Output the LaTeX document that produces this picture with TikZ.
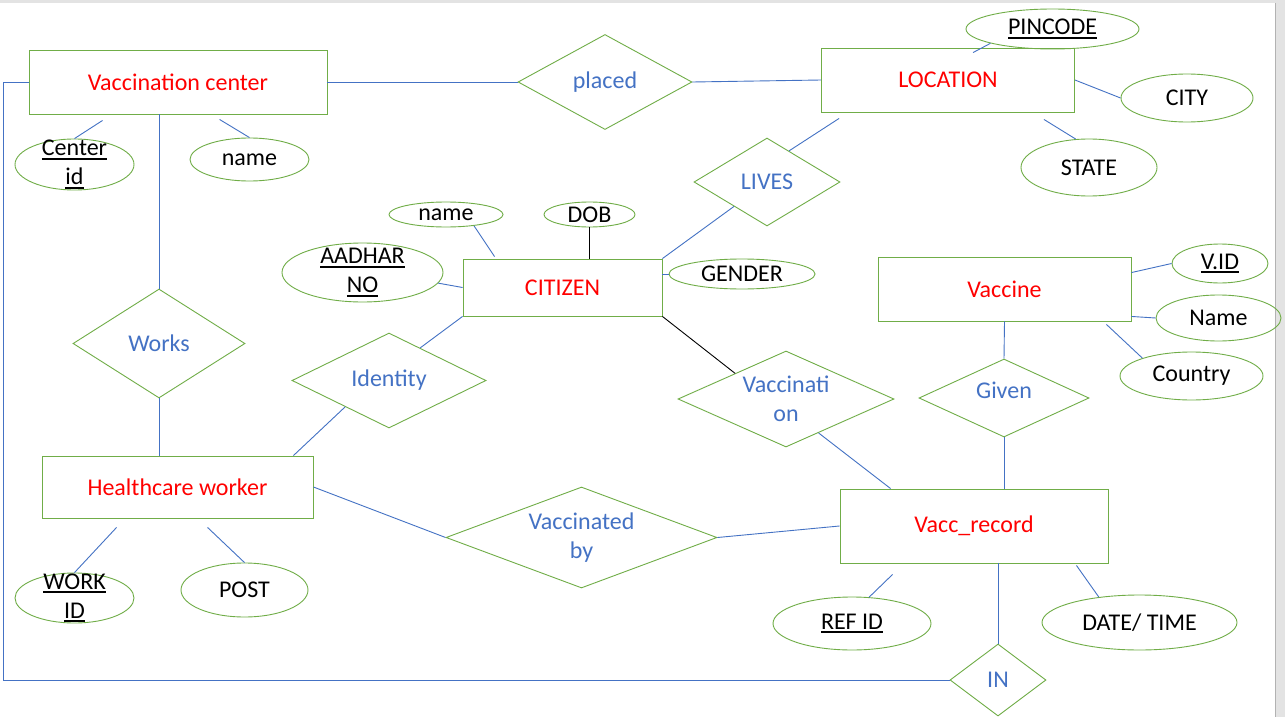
\documentclass[tikz,border=0pt]{standalone}
\usepackage{fontspec}
\setmainfont{Carlito}
\usetikzlibrary{shapes.geometric, positioning, calc}
\definecolor{boxgreen}{HTML}{70AD47}
\definecolor{linkblue}{HTML}{4472C4}
\definecolor{wordred}{HTML}{FF0000}
\definecolor{pagegrey}{HTML}{E3E3E3}
\tikzstyle{entity} = [rectangle, draw=boxgreen, line width=0.9pt, text=wordred, inner sep=0pt]
\tikzstyle{relation} = [diamond, draw=boxgreen, line width=0.9pt, text=linkblue, inner sep=0pt, align=center]
\tikzstyle{attrib} = [ellipse, draw=boxgreen, line width=0.9pt, text=black, inner xsep=0pt, inner ysep=-10pt, align=center]
\tikzstyle{bluelink} = [draw=linkblue, line width=0.9pt]
\tikzstyle{blacklink} = [draw=black, line width=0.9pt]
\newcommand{\keyattr}[1]{\setbox0\hbox{#1}\rlap{\rule[-4pt]{\wd0}{2pt}}\box0}

\begin{document}
\begin{tikzpicture}[x=1pt, y=-1pt, font=\fontsize{24}{29}\selectfont]
        \useasboundingbox (0,0) rectangle (1285,717);
        \fill[white] (0,0) rectangle (1285,717);
        \fill[pagegrey] (0,0) rectangle (1285,3);
        \fill[pagegrey] (1275,0) rectangle (1285,717);
        \draw[gray!60, line width=0.8pt] (1275,3) -- (1275,717);

        % entities
        \node (vc) [entity, minimum width=298pt, minimum height=64pt] at (178,82) {Vaccination center};
        \node (loc) [entity, minimum width=253pt, minimum height=64pt] at (948,80) {LOCATION};
        \node (cit) [entity, minimum width=199pt, minimum height=57pt] at (562.5,287.5) {CITIZEN};
        \node (vac) [entity, minimum width=253pt, minimum height=64pt] at (1004.5,289) {Vaccine};
        \node (hw) [entity, minimum width=271pt, minimum height=62pt] at (177.5,487) {Healthcare worker};
        \node (vr) [entity, minimum width=268pt, minimum height=74pt] at (974,526) {Vacc\_record};

        % relationships
        \node (placed) [relation, shape aspect=1.83, minimum width=174pt, minimum height=95pt] at (605,82) {placed};
        \node (lives) [relation, shape aspect=1.66, minimum width=146pt, minimum height=88pt] at (767,182) {LIVES};
        \node (works) [relation, shape aspect=1.58, minimum width=172pt, minimum height=109pt] at (159,343.5) {Works};
        \node (ident) [relation, shape aspect=2.04, minimum width=194pt, minimum height=95pt] at (389,380.5) {Identity};
        \node (vaccn) [relation, shape aspect=2.25, minimum width=216pt, minimum height=96pt] at (786,399) {Vaccinati\\on};
        \node (given) [relation, shape aspect=2.18, minimum width=170pt, minimum height=78pt] at (1004,398) {\raisebox{16pt}{Given}};
        \node (vby) [relation, shape aspect=2.68, minimum width=271pt, minimum height=101pt] at (581.5,537.5) {Vaccinated\\by};
        \node (in) [relation, shape aspect=1.33, minimum width=96pt, minimum height=72pt] at (998,680) {IN};

        % attributes
        \node (cid) [attrib, minimum width=119pt, minimum height=51pt] at (74.5,164.5) {\keyattr{Center}\\\keyattr{id}};
        \node (vcname) [attrib, minimum width=119pt, minimum height=43pt] at (249.5,159.5) {name};
        \node (pin) [attrib, minimum width=173pt, minimum height=40pt] at (1052.5,29) {\keyattr{PINCODE}};
        \node (city) [attrib, minimum width=132pt, minimum height=48pt] at (1187,98) {CITY};
        \node (state) [attrib, minimum width=136pt, minimum height=57pt] at (1089,167.5) {STATE};
        \node (cname) [attrib, minimum width=114pt, minimum height=25pt] at (446,214.5) {name};
        \node (dob) [attrib, minimum width=91pt, minimum height=25pt] at (589.5,214.5) {DOB};
        \node (aadhar) [attrib, minimum width=161pt, minimum height=59pt] at (362.5,272.5) {\keyattr{AADHAR}\\\keyattr{NO}};
        \node (gender) [attrib, minimum width=146pt, minimum height=30pt] at (742,274) {GENDER};
        \node (vid) [attrib, minimum width=96pt, minimum height=39pt] at (1220,263.5) {\keyattr{V.ID}};
        \node (vname) [attrib, minimum width=125pt, minimum height=46pt] at (1218.5,318) {Name};
        \node (country) [attrib, minimum width=143pt, minimum height=48pt] at (1191.5,376) {Country};
        \node (wid) [attrib, minimum width=119pt, minimum height=50pt] at (74.5,598) {\keyattr{WORK}\\\keyattr{ID}};
        \node (post) [attrib, minimum width=127pt, minimum height=54pt] at (244.5,590) {POST};
        \node (refid) [attrib, minimum width=158pt, minimum height=53pt] at (852,623.5) {\keyattr{REF ID}};
        \node (dt) [attrib, minimum width=195pt, minimum height=55pt] at (1139.5,622.5) {DATE/ TIME};

        \coordinate (leftedge) at (3,0);

        % relationship lines
        \path[bluelink] (vc.east) -- (placed.west);
        \path[bluelink] (placed.east) -- (loc.west);
        \path[bluelink] (works.north |- vc.south) -- (works.north);
        \path[bluelink] (works.south) -- (works.south |- hw.north);
        \path[bluelink] ($(loc.south west)+(18,6)$) -- ($(lives.north)!0.3!(lives.east)$);
        \path[bluelink] ($(lives.west)!0.55!(lives.south)$) -- (cit.north east);
        \path[bluelink] (cit.south west) -- ($(ident.north)!0.32!(ident.east)$);
        \path[bluelink] ($(ident.west)!0.55!(ident.south)$) -- ($(hw.north east)+(-20,0)$);
        \path[blacklink] (cit.south east) -- ($(vaccn.north)!0.47!(vaccn.west)$);
        \path[bluelink] ($(vaccn.south)!0.3!(vaccn.east)$) -- ($(vr.north west)+(51,0)$);
        \path[bluelink] (vac.south) -- (given.north);
        \path[bluelink] (given.south) -- (given.south |- vr.north);
        \path[bluelink] (hw.east) -- (vby.west);
        \path[bluelink] (vby.east) -- (vr.west);
        \path[bluelink] (in.north |- vr.south) -- (in.north);
        \path[bluelink] (in.west) -- (in.west -| leftedge) -- (vc.west -| leftedge) -- (vc.west);

        % attribute lines
        \path[bluelink] ($(vc.south west)+(74,6)$) -- (cid.north);
        \path[bluelink] ($(vc.south west)+(191,5)$) -- (vcname.north);
        \path[bluelink] ($(loc.north west)+(152,5)$) -- (pin.193);
        \path[bluelink] (loc.east) -- (city.west);
        \path[bluelink] ($(loc.south east)+(-31,7)$) -- (state.115);
        \path[bluelink] (cname.338) -- ($(cit.north west)+(32,-2)$);
        \path[blacklink] (dob.south) -- (dob.south |- cit.north);
        \path[bluelink] (aadhar.352) -- (cit.west);
        \path[bluelink] (gender.west) -- (gender.west -| cit.east);
        \path[bluelink] ($(vac.north east)+(0,16)$) -- (vid.west);
        \path[bluelink] ($(vac.south east)+(0,-5)$) -- (vname.west);
        \path[bluelink] ($(vac.south east)+(-25,3)$) -- (country.160);
        \path[bluelink] ($(hw.south west)+(75,9)$) -- (wid.north);
        \path[bluelink] ($(hw.south west)+(166,9)$) -- (post.north);
        \path[bluelink] ($(vr.south west)+(53,11)$) -- (refid.57);
        \path[bluelink] ($(vr.south east)+(-32,2)$) -- (dt.148);
\end{tikzpicture}
\end{document}
